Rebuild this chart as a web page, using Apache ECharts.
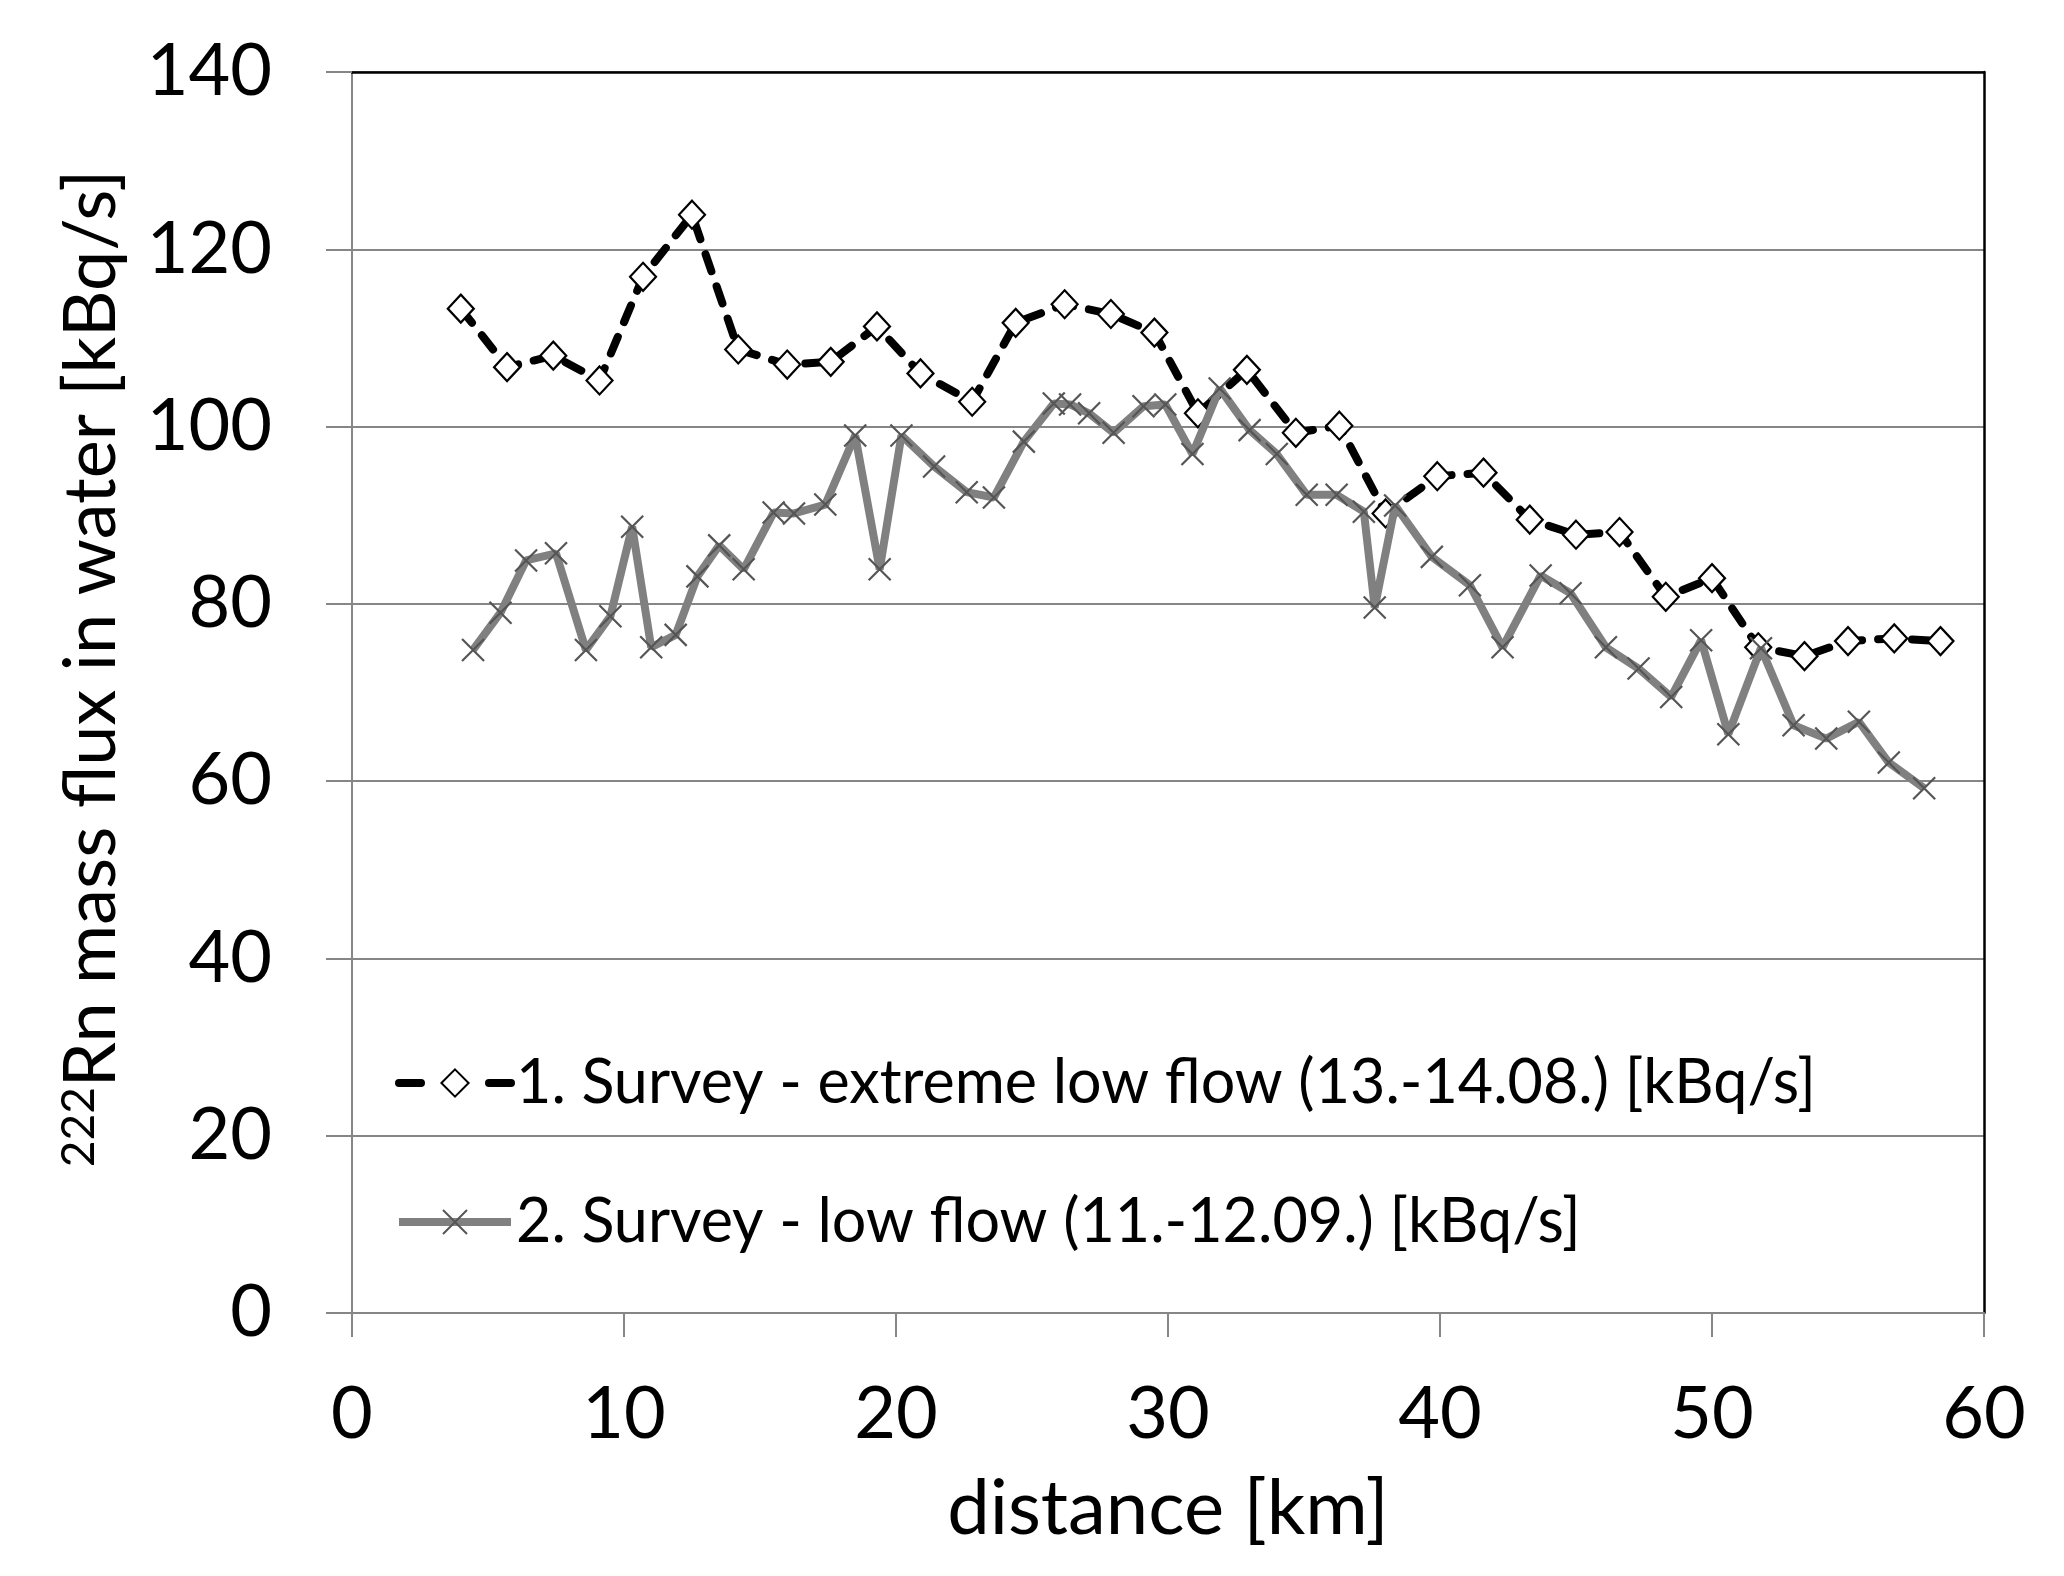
<!DOCTYPE html>
<html>
<head>
<meta charset="utf-8">
<script src="https://cdn.jsdelivr.net/npm/echarts@6/dist/echarts.min.js"></script>
<style>
html,body{margin:0;padding:0;background:#fff;}
#chart{width:2064px;height:1576px;}
</style>
</head>
<body>
<div id="chart"></div>
<script>
// Series 1: 1. Survey - extreme low flow
const s1Dist = [4.0, 5.7, 7.4, 9.1, 10.7, 12.5, 14.2, 16.0, 17.6, 19.3, 20.9, 22.8, 24.4, 26.2, 27.9, 29.5, 31.1, 32.9, 34.7, 36.3, 38.0, 39.9, 41.6, 43.3, 45.0, 46.6, 48.3, 50.0, 51.7, 53.4, 55.0, 56.7, 58.4];
const s1Flux = [113.3, 106.7, 108.0, 105.2, 116.9, 123.9, 108.7, 107.0, 107.3, 111.3, 106.0, 102.8, 111.7, 113.8, 112.7, 110.6, 101.5, 106.4, 99.3, 100.1, 90.2, 94.4, 94.8, 89.5, 87.8, 88.1, 80.8, 82.9, 75.1, 74.1, 75.8, 76.1, 75.8];
// Series 2: 2. Survey - low flow
const s2Dist = [4.45, 5.46, 6.4, 7.5, 8.6, 9.5, 10.3, 11.0, 11.9, 12.7, 13.5, 14.4, 15.5, 16.25, 17.4, 18.5, 19.4, 20.2, 21.4, 22.6, 23.6, 24.7, 25.8, 26.4, 27.1, 28.0, 29.1, 29.9, 30.9, 31.9, 33.0, 34.0, 35.1, 36.2, 37.2, 37.6, 38.35, 39.7, 41.1, 42.3, 43.7, 44.8, 46.1, 47.3, 48.5, 49.6, 50.6, 51.8, 53.0, 54.2, 55.4, 56.5, 57.8];
const s2Flux = [74.8, 79.0, 84.9, 85.7, 74.8, 78.6, 88.7, 75.1, 76.5, 83.1, 86.6, 83.9, 90.3, 90.2, 91.2, 99.0, 83.9, 99.0, 95.5, 92.6, 92.0, 98.3, 102.6, 102.5, 101.5, 99.3, 102.3, 102.5, 96.9, 104.3, 99.6, 96.9, 92.3, 92.3, 90.4, 79.6, 91.1, 85.3, 82.1, 75.1, 83.2, 81.2, 75.1, 72.7, 69.5, 75.9, 65.3, 75.0, 66.3, 64.8, 66.7, 62.1, 59.2];

const seriesNames = ['1. Survey - extreme low flow (13.-14.08.) [kBq/s]', '2. Survey - low flow (11.-12.09.) [kBq/s]'];
const xTicks = {min: 0, max: 60, interval: 10};
const yTicks = {min: 0, max: 140, interval: 20};
const xTitle = 'distance [km]';
const yTitleSup = '222';
const yTitleMain = 'Rn mass flux in water [kBq/s]';

const FONT = 'Lato';
const GRAY = '#868686';

const chart = echarts.init(document.getElementById('chart'), null, {renderer: 'canvas'});

const s1Data = s1Dist.map((d, i) => [d, s1Flux[i]]);
const s2Data = s2Dist.map((d, i) => [d, s2Flux[i]]);

const legendText = {fontFamily: FONT, fontSize: 61, color: '#000', lineHeight: 70};

const option = {
  backgroundColor: '#fff',
  animation: false,
  textStyle: {fontFamily: FONT, color: '#000'},
  grid: {left: 352, right: 80, top: 72, bottom: 263, containLabel: false},
  legend: [
    {
      data: [seriesNames[0]],
      left: 390, top: 1086 - 35 - 8,
      itemWidth: 112, itemHeight: 34, itemGap: 0,
      textStyle: legendText,
      lineStyle: {width: 8, color: '#000', type: [22, 68], cap: 'round'},
      selectedMode: false
    },
    {
      data: [seriesNames[1]],
      left: 390, top: 1222 - 35 - 5,
      itemWidth: 112, itemHeight: 30, itemGap: 0,
      textStyle: legendText,
      lineStyle: {width: 8, color: '#808080', type: 'solid'},
      selectedMode: false
    }
  ],
  xAxis: [
    {
      type: 'value', position: 'bottom',
      min: xTicks.min, max: xTicks.max, interval: xTicks.interval,
      name: xTitle, nameLocation: 'middle', nameGap: 158,
      nameTextStyle: {fontFamily: FONT, fontSize: 76, color: '#000'},
      axisLine: {show: true, onZero: false, lineStyle: {color: GRAY, width: 2}},
      axisTick: {show: true, inside: false, length: 24, lineStyle: {color: GRAY, width: 2}},
      axisLabel: {fontFamily: FONT, fontSize: 72, color: '#000', margin: 66},
      splitLine: {show: false}
    },
    {
      type: 'value', position: 'top',
      min: xTicks.min, max: xTicks.max, interval: xTicks.interval,
      axisLine: {show: true, onZero: false, lineStyle: {color: '#000', width: 2.5}},
      axisTick: {show: false}, axisLabel: {show: false}, splitLine: {show: false}
    }
  ],
  yAxis: [
    {
      type: 'value', position: 'left',
      min: yTicks.min, max: yTicks.max, interval: yTicks.interval,
      name: '{sup|' + yTitleSup + '}{main|' + yTitleMain + '}',
      nameLocation: 'middle', nameRotate: 90, nameGap: 224,
      nameTextStyle: {
        padding: [0, 0, 0, 48],
        rich: {
          sup: {fontFamily: FONT, fontSize: 46, color: '#000', verticalAlign: 'top', padding: [0, 0, 26, 0]},
          main: {fontFamily: FONT, fontSize: 72, color: '#000'}
        }
      },
      axisLine: {show: true, onZero: false, lineStyle: {color: GRAY, width: 2}},
      axisTick: {show: true, inside: false, length: 26, lineStyle: {color: GRAY, width: 2}},
      axisLabel: {fontFamily: FONT, fontSize: 72, color: '#000', margin: 80},
      splitLine: {show: true, lineStyle: {color: GRAY, width: 2}}
    },
    {
      type: 'value', position: 'right',
      min: yTicks.min, max: yTicks.max, interval: yTicks.interval,
      axisLine: {show: true, onZero: false, lineStyle: {color: '#000', width: 2.5}},
      axisTick: {show: false}, axisLabel: {show: false}, splitLine: {show: false}
    }
  ],
  series: [
    {
      name: seriesNames[0],
      type: 'line',
      xAxisIndex: 0, yAxisIndex: 0,
      data: s1Data,
      showAllSymbol: true,
      symbol: 'diamond',
      symbolSize: [26, 28],
      lineStyle: {color: '#000', width: 8, type: [18, 16], cap: 'round'},
      itemStyle: {color: '#fff', borderColor: '#000', borderWidth: 2.2},
      z: 2
    },
    {
      name: seriesNames[1],
      type: 'line',
      xAxisIndex: 0, yAxisIndex: 0,
      data: s2Data,
      showAllSymbol: true,
      symbol: 'path://M0,0L10,10M10,0L0,10',
      symbolSize: 22,
      lineStyle: {color: '#808080', width: 8},
      itemStyle: {color: 'none', borderColor: '#555', borderWidth: 2.2},
      z: 3
    }
  ]
};
chart.setOption(option);
</script>
</body>
</html>
